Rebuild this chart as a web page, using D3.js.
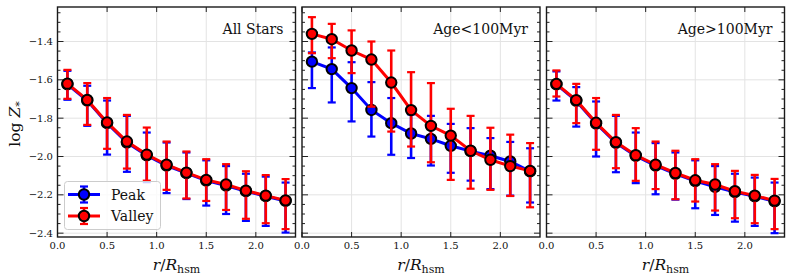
<!DOCTYPE html>
<html>
<head>
<meta charset="utf-8">
<script src="https://cdn.jsdelivr.net/npm/d3@7"></script>
<style>
  body { margin: 0; background: #fff; }
  svg text { font-family: "DejaVu Serif", serif; fill: #111; }
</style>
</head>
<body>
<div id="chart"></div>
<script>
'use strict';

// radial bins, r / R_hsm
const radii = [0.1, 0.3, 0.5, 0.7, 0.9, 1.1, 1.3, 1.5, 1.7, 1.9, 2.1, 2.3];
const xTicks = [0.0, 0.5, 1.0, 1.5, 2.0];
const yTicks = [-2.4, -2.2, -2.0, -1.8, -1.6, -1.4];
const panelTitles = ['All Stars', 'Age<100Myr', 'Age>100Myr'];
const seriesNames = ['Peak', 'Valley'];

// All Stars
const allPeak = [-1.623, -1.708, -1.826, -1.927, -1.994, -2.047, -2.087, -2.126, -2.152, -2.181, -2.207, -2.232];
const allPeakHi = [-1.553, -1.631, -1.708, -1.788, -1.875, -1.927, -1.979, -2.020, -2.050, -2.090, -2.105, -2.136];
const allPeakLo = [-1.704, -1.840, -1.990, -2.080, -2.134, -2.191, -2.222, -2.256, -2.300, -2.336, -2.362, -2.397];
const allValley = [-1.620, -1.705, -1.822, -1.922, -1.990, -2.043, -2.084, -2.122, -2.146, -2.178, -2.204, -2.229];
const allValleyHi = [-1.548, -1.617, -1.695, -1.783, -1.849, -1.922, -1.974, -2.014, -2.040, -2.077, -2.097, -2.118];
const allValleyLo = [-1.699, -1.835, -1.960, -2.063, -2.126, -2.174, -2.219, -2.232, -2.279, -2.325, -2.348, -2.379];

// Age < 100 Myr
const youngPeak = [-1.505, -1.544, -1.643, -1.757, -1.826, -1.880, -1.908, -1.944, -1.972, -1.996, -2.026, -2.078];
const youngPeakHi = [-1.457, -1.431, -1.508, -1.612, -1.695, -1.780, -1.788, -1.830, -1.852, -1.904, -1.924, -1.957];
const youngPeakLo = [-1.643, -1.718, -1.817, -1.896, -1.991, -2.008, -2.047, -2.085, -2.126, -2.170, -2.204, -2.240];
const youngValley = [-1.360, -1.388, -1.447, -1.494, -1.614, -1.758, -1.840, -1.891, -1.970, -2.017, -2.050, -2.075];
const youngValleyHi = [-1.273, -1.308, -1.342, -1.400, -1.447, -1.560, -1.617, -1.751, -1.788, -1.850, -1.886, -1.930];
const youngValleyLo = [-1.461, -1.487, -1.565, -1.740, -1.870, -1.948, -2.030, -2.122, -2.168, -2.174, -2.206, -2.265];

// Age > 100 Myr
const oldPeak = [-1.624, -1.710, -1.828, -1.929, -1.997, -2.048, -2.090, -2.128, -2.158, -2.186, -2.208, -2.234];
const oldPeakHi = [-1.556, -1.638, -1.713, -1.788, -1.875, -1.930, -1.979, -2.020, -2.050, -2.090, -2.110, -2.136];
const oldPeakLo = [-1.708, -1.844, -2.000, -2.082, -2.139, -2.197, -2.225, -2.270, -2.305, -2.340, -2.362, -2.400];
const oldValley = [-1.621, -1.706, -1.824, -1.925, -1.993, -2.043, -2.086, -2.124, -2.146, -2.181, -2.204, -2.230];
const oldValleyHi = [-1.551, -1.621, -1.695, -1.783, -1.852, -1.922, -1.970, -2.014, -2.040, -2.075, -2.096, -2.117];
const oldValleyLo = [-1.687, -1.826, -1.965, -2.061, -2.127, -2.170, -2.223, -2.235, -2.282, -2.322, -2.348, -2.379];

const panels = [
    [[allPeak, allPeakLo, allPeakHi], [allValley, allValleyLo, allValleyHi]],
    [[youngPeak, youngPeakLo, youngPeakHi], [youngValley, youngValleyLo, youngValleyHi]],
    [[oldPeak, oldPeakLo, oldPeakHi], [oldValley, oldValleyLo, oldValleyHi]]
];
const colors = ['#0000ff', '#ff0000'];

const W = 793, H = 279;
const plotTop = 7, plotBottom = 237, pw = 238;
const lefts = [57.5, 302, 546.5];

const svg = d3.select('#chart').append('svg')
    .attr('width', W)
    .attr('height', H);

let y = d3.scaleLinear().domain([-2.42, -1.22]).range([plotBottom, plotTop]);
let minorY = d3.range(-2.40, -1.2, 0.05).map(v => +v.toFixed(2));
let fmt = v => d3.format('.1f')(v).replace('-', '\u2212');

panels.forEach(function (series, p) {
    let x = d3.scaleLinear().domain([0, 2.4]).range([lefts[p], lefts[p] + pw]);
    let g = svg.append('g');

    // grid
    g.selectAll('.gx').data(xTicks).enter().append('line')
        .attr('x1', d => x(d)).attr('x2', d => x(d))
        .attr('y1', plotTop).attr('y2', plotBottom)
        .style('stroke', '#e3e3e3').style('stroke-width', 1);
    g.selectAll('.gy').data(yTicks).enter().append('line')
        .attr('x1', lefts[p]).attr('x2', lefts[p] + pw)
        .attr('y1', d => y(d)).attr('y2', d => y(d))
        .style('stroke', '#e3e3e3').style('stroke-width', 1);

    // ticks pointing in, all four sides
    [[lefts[p], 1], [lefts[p] + pw, -1]].forEach(function (side) {
        g.selectAll(null).data(minorY).enter().append('line')
            .attr('x1', side[0]).attr('x2', d => side[0] + side[1] * (yTicks.some(t => Math.abs(t - d) < 1e-6) ? 6 : 3))
            .attr('y1', d => y(d)).attr('y2', d => y(d))
            .style('stroke', '#222').style('stroke-width', 1);
    });
    [[plotTop, 1], [plotBottom, -1]].forEach(function (side) {
        g.selectAll(null).data(xTicks).enter().append('line')
            .attr('x1', d => x(d)).attr('x2', d => x(d))
            .attr('y1', side[0]).attr('y2', side[0] + side[1] * 5)
            .style('stroke', '#222').style('stroke-width', 1);
    });

    // x tick labels
    g.selectAll('.xl').data(xTicks).enter().append('text')
        .attr('x', d => x(d)).attr('y', 248.5)
        .attr('text-anchor', 'middle')
        .style('font-size', '10px')
        .text(d => d.toFixed(1));

    if (p === 0) {
        g.selectAll('.yl').data(yTicks).enter().append('text')
            .attr('x', 53).attr('y', d => y(d) + 3.6)
            .attr('text-anchor', 'end')
            .style('font-size', '10px')
            .text(fmt);
    }

    // x label
    let xl = g.append('text')
        .attr('x', lefts[p] + pw / 2).attr('y', 269.5)
        .attr('text-anchor', 'middle')
        .style('font-size', '15.5px');
    xl.append('tspan').style('font-style', 'italic').text('r');
    xl.append('tspan').text('/');
    xl.append('tspan').style('font-style', 'italic').text('R');
    xl.append('tspan').attr('dy', 3).style('font-size', '11px').text('hsm');

    // panel title
    g.append('text')
        .attr('x', lefts[p] + pw - 12).attr('y', 34)
        .attr('text-anchor', 'end')
        .style('font-size', '14px')
        .text(panelTitles[p]);

    let line = d3.line().x((d, i) => x(radii[i])).y(d => y(d));

    series.forEach(function (s, k) {
        let vals = s[0], lo = s[1], hi = s[2];
        let sg = g.append('g');
        sg.selectAll('.eb').data(radii).enter().append('line')
            .attr('x1', d => x(d)).attr('x2', d => x(d))
            .attr('y1', (d, i) => y(lo[i])).attr('y2', (d, i) => y(hi[i]))
            .style('stroke', colors[k]).style('stroke-width', 2.6);
        [lo, hi].forEach(function (arr) {
            sg.selectAll(null).data(radii).enter().append('line')
                .attr('x1', d => x(d) - 4).attr('x2', d => x(d) + 4)
                .attr('y1', (d, i) => y(arr[i])).attr('y2', (d, i) => y(arr[i]))
                .style('stroke', colors[k]).style('stroke-width', 2.2);
        });
        sg.append('path').datum(vals)
            .attr('d', line)
            .style('fill', 'none').style('stroke', colors[k]).style('stroke-width', 3);
        sg.selectAll('circle').data(vals).enter().append('circle')
            .attr('cx', (d, i) => x(radii[i])).attr('cy', d => y(d))
            .attr('r', 5.2)
            .style('fill', colors[k]).style('stroke', '#000').style('stroke-width', 2);
    });

    // frame
    g.append('rect')
        .attr('x', lefts[p]).attr('y', plotTop)
        .attr('width', pw).attr('height', plotBottom - plotTop)
        .style('fill', 'none').style('stroke', '#1a1a1a').style('stroke-width', 1.4);
});

// y label
let yl = svg.append('text')
    .attr('transform', 'translate(20,124) rotate(-90)')
    .attr('text-anchor', 'middle')
    .style('font-size', '15.5px');
yl.append('tspan').text('log ');
yl.append('tspan').style('font-style', 'italic').text('Z');
yl.append('tspan').attr('dy', 3).style('font-size', '11px').text('*');

// legend
let lg = svg.append('g');
lg.append('rect')
    .attr('x', 64.5).attr('y', 181.5).attr('width', 96).attr('height', 48).attr('rx', 3)
    .style('fill', 'rgba(255,255,255,0.8)').style('stroke', '#cccccc').style('stroke-width', 1);
seriesNames.forEach(function (name, k) {
    let cy = 194.5 + k * 21.5;
    lg.append('line').attr('x1', 68).attr('x2', 100).attr('y1', cy).attr('y2', cy)
        .style('stroke', colors[k]).style('stroke-width', 3);
    lg.append('line').attr('x1', 84).attr('x2', 84).attr('y1', cy - 8).attr('y2', cy + 8)
        .style('stroke', colors[k]).style('stroke-width', 2.6);
    [cy - 8, cy + 8].forEach(function (c) {
        lg.append('line').attr('x1', 80).attr('x2', 88).attr('y1', c).attr('y2', c)
            .style('stroke', colors[k]).style('stroke-width', 2.2);
    });
    lg.append('circle').attr('cx', 84).attr('cy', cy).attr('r', 5.2)
        .style('fill', colors[k]).style('stroke', '#000').style('stroke-width', 2);
    lg.append('text').attr('x', 111).attr('y', cy + 5)
        .style('font-size', '14px')
        .text(name);
});
</script>
</body>
</html>
